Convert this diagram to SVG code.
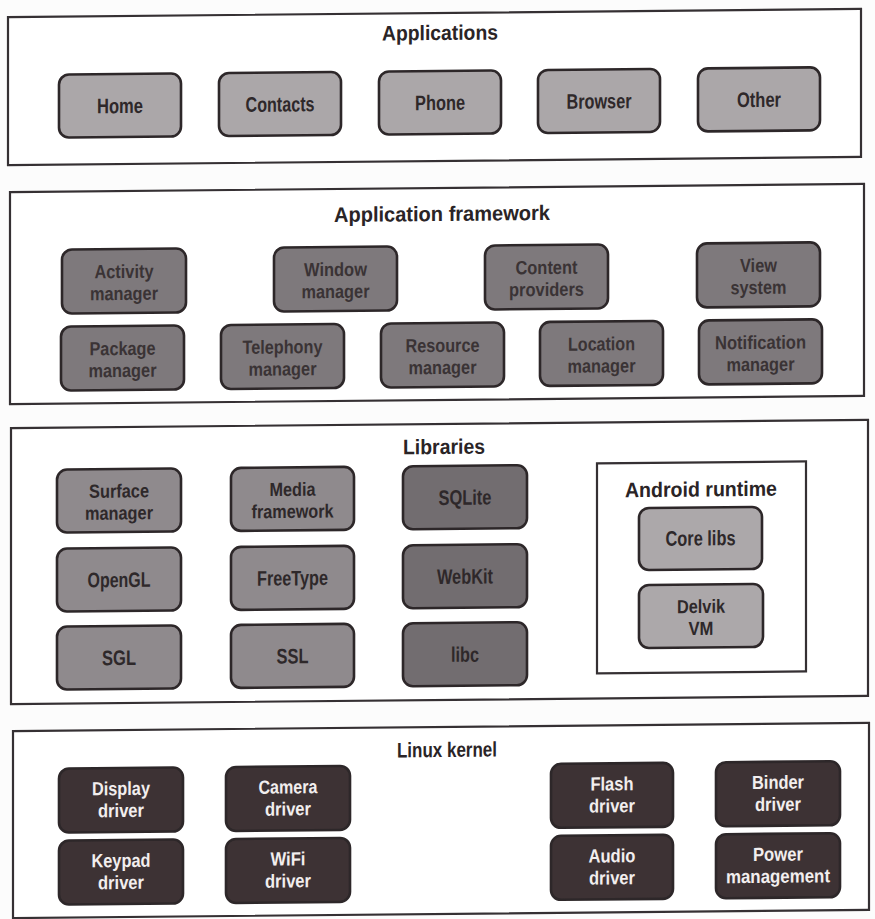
<svg xmlns="http://www.w3.org/2000/svg" width="875" height="919" viewBox="0 0 875 919">
<style>
text{font-family:"Liberation Sans",Arial,sans-serif;font-weight:bold;text-anchor:middle;}
.sec{fill:#ffffff;stroke:#353033;stroke-width:2.2;}
.ttl{font-size:21px;fill:#2a2426;}
.n{stroke:#2d2729;stroke-width:2.6;}
.lbl{font-size:21px;fill:#2e282a;}
.l2{font-size:19px;}
.app{fill:#aba7a9;}
.fw{fill:#7e797c;}
.fwt{fill:#3a3335;}
.lib{fill:#8f8a8d;}
.libd{fill:#726d70;}
.rt{fill:#aca8aa;}
.kn{fill:#3d3234;}
.knt{fill:#f2eeee;}
</style>
<rect x="0" y="0" width="875" height="919" fill="#fcfcfc"/>
<g transform="translate(437 0) skewY(-0.55) translate(-437 0)">
<g id="applications">
<rect class="sec" x="8" y="13" width="853" height="148"/>
<text class="ttl" x="440" y="40" textLength="116" lengthAdjust="spacingAndGlyphs">Applications</text>
<g id="home"><rect class="n app" x="59" y="71" width="122" height="63" rx="10"/><text class="lbl" x="120" y="110" textLength="46" lengthAdjust="spacingAndGlyphs">Home</text></g>
<g id="contacts"><rect class="n app" x="219" y="71" width="122" height="63" rx="10"/><text class="lbl" x="280" y="110" textLength="69" lengthAdjust="spacingAndGlyphs">Contacts</text></g>
<g id="phone"><rect class="n app" x="379" y="71" width="122" height="63" rx="10"/><text class="lbl" x="440" y="110" textLength="50" lengthAdjust="spacingAndGlyphs">Phone</text></g>
<g id="browser"><rect class="n app" x="538" y="71" width="122" height="63" rx="10"/><text class="lbl" x="599" y="110" textLength="65" lengthAdjust="spacingAndGlyphs">Browser</text></g>
<g id="other"><rect class="n app" x="698" y="71" width="122" height="63" rx="10"/><text class="lbl" x="759" y="110" textLength="44" lengthAdjust="spacingAndGlyphs">Other</text></g>
</g>
<g id="application-framework">
<rect class="sec" x="10" y="188" width="854" height="212"/>
<text class="ttl" x="442" y="221" textLength="216" lengthAdjust="spacingAndGlyphs">Application framework</text>
<g id="activity-manager"><rect class="n fw" x="62" y="246" width="124" height="64" rx="10"/><text class="lbl l2 fwt" x="124" y="275" textLength="59" lengthAdjust="spacingAndGlyphs">Activity</text><text class="lbl l2 fwt" x="124" y="297" textLength="68" lengthAdjust="spacingAndGlyphs">manager</text></g>
<g id="window-manager"><rect class="n fw" x="274" y="246" width="123" height="64" rx="10"/><text class="lbl l2 fwt" x="335.5" y="275" textLength="63" lengthAdjust="spacingAndGlyphs">Window</text><text class="lbl l2 fwt" x="335.5" y="297" textLength="68" lengthAdjust="spacingAndGlyphs">manager</text></g>
<g id="content-providers"><rect class="n fw" x="485" y="246" width="123" height="64" rx="10"/><text class="lbl l2 fwt" x="546.5" y="275" textLength="62" lengthAdjust="spacingAndGlyphs">Content</text><text class="lbl l2 fwt" x="546.5" y="297" textLength="75" lengthAdjust="spacingAndGlyphs">providers</text></g>
<g id="view-system"><rect class="n fw" x="697" y="246" width="123" height="64" rx="10"/><text class="lbl l2 fwt" x="758.5" y="275" textLength="37" lengthAdjust="spacingAndGlyphs">View</text><text class="lbl l2 fwt" x="758.5" y="297" textLength="56" lengthAdjust="spacingAndGlyphs">system</text></g>
<g id="package-manager"><rect class="n fw" x="61" y="323" width="123" height="64" rx="10"/><text class="lbl l2 fwt" x="122.5" y="352" textLength="66" lengthAdjust="spacingAndGlyphs">Package</text><text class="lbl l2 fwt" x="122.5" y="374" textLength="68" lengthAdjust="spacingAndGlyphs">manager</text></g>
<g id="telephony-manager"><rect class="n fw" x="221" y="323" width="123" height="64" rx="10"/><text class="lbl l2 fwt" x="282.5" y="352" textLength="80" lengthAdjust="spacingAndGlyphs">Telephony</text><text class="lbl l2 fwt" x="282.5" y="374" textLength="68" lengthAdjust="spacingAndGlyphs">manager</text></g>
<g id="resource-manager"><rect class="n fw" x="381" y="323" width="123" height="64" rx="10"/><text class="lbl l2 fwt" x="442.5" y="352" textLength="74" lengthAdjust="spacingAndGlyphs">Resource</text><text class="lbl l2 fwt" x="442.5" y="374" textLength="68" lengthAdjust="spacingAndGlyphs">manager</text></g>
<g id="location-manager"><rect class="n fw" x="540" y="323" width="123" height="64" rx="10"/><text class="lbl l2 fwt" x="601.5" y="352" textLength="67" lengthAdjust="spacingAndGlyphs">Location</text><text class="lbl l2 fwt" x="601.5" y="374" textLength="68" lengthAdjust="spacingAndGlyphs">manager</text></g>
<g id="notification-manager"><rect class="n fw" x="699" y="323" width="123" height="64" rx="10"/><text class="lbl l2 fwt" x="760.5" y="352" textLength="91" lengthAdjust="spacingAndGlyphs">Notification</text><text class="lbl l2 fwt" x="760.5" y="374" textLength="68" lengthAdjust="spacingAndGlyphs">manager</text></g>
</g>
<g id="libraries">
<rect class="sec" x="11" y="424" width="857" height="276"/>
<text class="ttl" x="444" y="454" textLength="82" lengthAdjust="spacingAndGlyphs">Libraries</text>
<g id="surface-manager"><rect class="n lib" x="57" y="466" width="124" height="63" rx="10"/><text class="lbl l2" x="119" y="494.5" textLength="60" lengthAdjust="spacingAndGlyphs">Surface</text><text class="lbl l2" x="119" y="516.5" textLength="68" lengthAdjust="spacingAndGlyphs">manager</text></g>
<g id="media-framework"><rect class="n lib" x="231" y="466" width="123" height="63" rx="10"/><text class="lbl l2" x="292.5" y="494.5" textLength="46" lengthAdjust="spacingAndGlyphs">Media</text><text class="lbl l2" x="292.5" y="516.5" textLength="82" lengthAdjust="spacingAndGlyphs">framework</text></g>
<g id="sqlite"><rect class="n libd" x="403" y="466" width="124" height="63" rx="10"/><text class="lbl" x="465" y="505" textLength="53" lengthAdjust="spacingAndGlyphs">SQLite</text></g>
<g id="opengl"><rect class="n lib" x="57" y="545" width="124" height="63" rx="10"/><text class="lbl" x="119" y="584" textLength="63" lengthAdjust="spacingAndGlyphs">OpenGL</text></g>
<g id="freetype"><rect class="n lib" x="231" y="545" width="123" height="63" rx="10"/><text class="lbl" x="292.5" y="584" textLength="71" lengthAdjust="spacingAndGlyphs">FreeType</text></g>
<g id="webkit"><rect class="n libd" x="403" y="545" width="124" height="63" rx="10"/><text class="lbl" x="465" y="584" textLength="56" lengthAdjust="spacingAndGlyphs">WebKit</text></g>
<g id="sgl"><rect class="n lib" x="57" y="623" width="124" height="63" rx="10"/><text class="lbl" x="119" y="662" textLength="34" lengthAdjust="spacingAndGlyphs">SGL</text></g>
<g id="ssl"><rect class="n lib" x="231" y="623" width="123" height="63" rx="10"/><text class="lbl" x="292.5" y="662" textLength="32" lengthAdjust="spacingAndGlyphs">SSL</text></g>
<g id="libc"><rect class="n libd" x="403" y="623" width="124" height="63" rx="10"/><text class="lbl" x="465" y="662" textLength="28" lengthAdjust="spacingAndGlyphs">libc</text></g>
<g id="android-runtime">
<rect class="sec" x="597" y="465" width="209" height="210"/>
<text class="ttl" x="701" y="499" textLength="152" lengthAdjust="spacingAndGlyphs">Android runtime</text>
<g id="core-libs"><rect class="n rt" x="639" y="510" width="123" height="62" rx="10"/><text class="lbl" x="700.5" y="548" textLength="70" lengthAdjust="spacingAndGlyphs">Core libs</text></g>
<g id="delvik-vm"><rect class="n rt" x="639" y="587" width="124" height="63" rx="10"/><text class="lbl l2" x="701" y="615.5" textLength="48" lengthAdjust="spacingAndGlyphs">Delvik</text><text class="lbl l2" x="701" y="637.5" textLength="25" lengthAdjust="spacingAndGlyphs">VM</text></g>
</g>
</g>
<g id="linux-kernel">
<rect class="sec" x="13" y="727" width="856" height="187"/>
<text class="ttl" x="447" y="757" textLength="100" lengthAdjust="spacingAndGlyphs">Linux kernel</text>
<g id="display-driver"><rect class="n kn" x="59" y="765" width="124" height="64" rx="10"/><text class="lbl l2 knt" x="121" y="792" textLength="58" lengthAdjust="spacingAndGlyphs">Display</text><text class="lbl l2 knt" x="121" y="814" textLength="46" lengthAdjust="spacingAndGlyphs">driver</text></g>
<g id="camera-driver"><rect class="n kn" x="226" y="765" width="124" height="64" rx="10"/><text class="lbl l2 knt" x="288" y="792" textLength="59" lengthAdjust="spacingAndGlyphs">Camera</text><text class="lbl l2 knt" x="288" y="814" textLength="46" lengthAdjust="spacingAndGlyphs">driver</text></g>
<g id="keypad-driver"><rect class="n kn" x="59" y="837" width="124" height="64" rx="10"/><text class="lbl l2 knt" x="121" y="864" textLength="59" lengthAdjust="spacingAndGlyphs">Keypad</text><text class="lbl l2 knt" x="121" y="886" textLength="46" lengthAdjust="spacingAndGlyphs">driver</text></g>
<g id="wifi-driver"><rect class="n kn" x="226" y="837" width="124" height="64" rx="10"/><text class="lbl l2 knt" x="288" y="864" textLength="35" lengthAdjust="spacingAndGlyphs">WiFi</text><text class="lbl l2 knt" x="288" y="886" textLength="46" lengthAdjust="spacingAndGlyphs">driver</text></g>
<g id="flash-driver"><rect class="n kn" x="551" y="765" width="122" height="64" rx="10"/><text class="lbl l2 knt" x="612" y="792" textLength="43" lengthAdjust="spacingAndGlyphs">Flash</text><text class="lbl l2 knt" x="612" y="814" textLength="46" lengthAdjust="spacingAndGlyphs">driver</text></g>
<g id="binder-driver"><rect class="n kn" x="716" y="765" width="124" height="64" rx="10"/><text class="lbl l2 knt" x="778" y="792" textLength="52" lengthAdjust="spacingAndGlyphs">Binder</text><text class="lbl l2 knt" x="778" y="814" textLength="46" lengthAdjust="spacingAndGlyphs">driver</text></g>
<g id="audio-driver"><rect class="n kn" x="551" y="837" width="122" height="64" rx="10"/><text class="lbl l2 knt" x="612" y="864" textLength="47" lengthAdjust="spacingAndGlyphs">Audio</text><text class="lbl l2 knt" x="612" y="886" textLength="46" lengthAdjust="spacingAndGlyphs">driver</text></g>
<g id="power-management"><rect class="n kn" x="716" y="837" width="124" height="64" rx="10"/><text class="lbl l2 knt" x="778" y="864" textLength="50" lengthAdjust="spacingAndGlyphs">Power</text><text class="lbl l2 knt" x="778" y="886" textLength="104" lengthAdjust="spacingAndGlyphs">management</text></g>
</g>
<g id="connectors"/>
</g>
</svg>
